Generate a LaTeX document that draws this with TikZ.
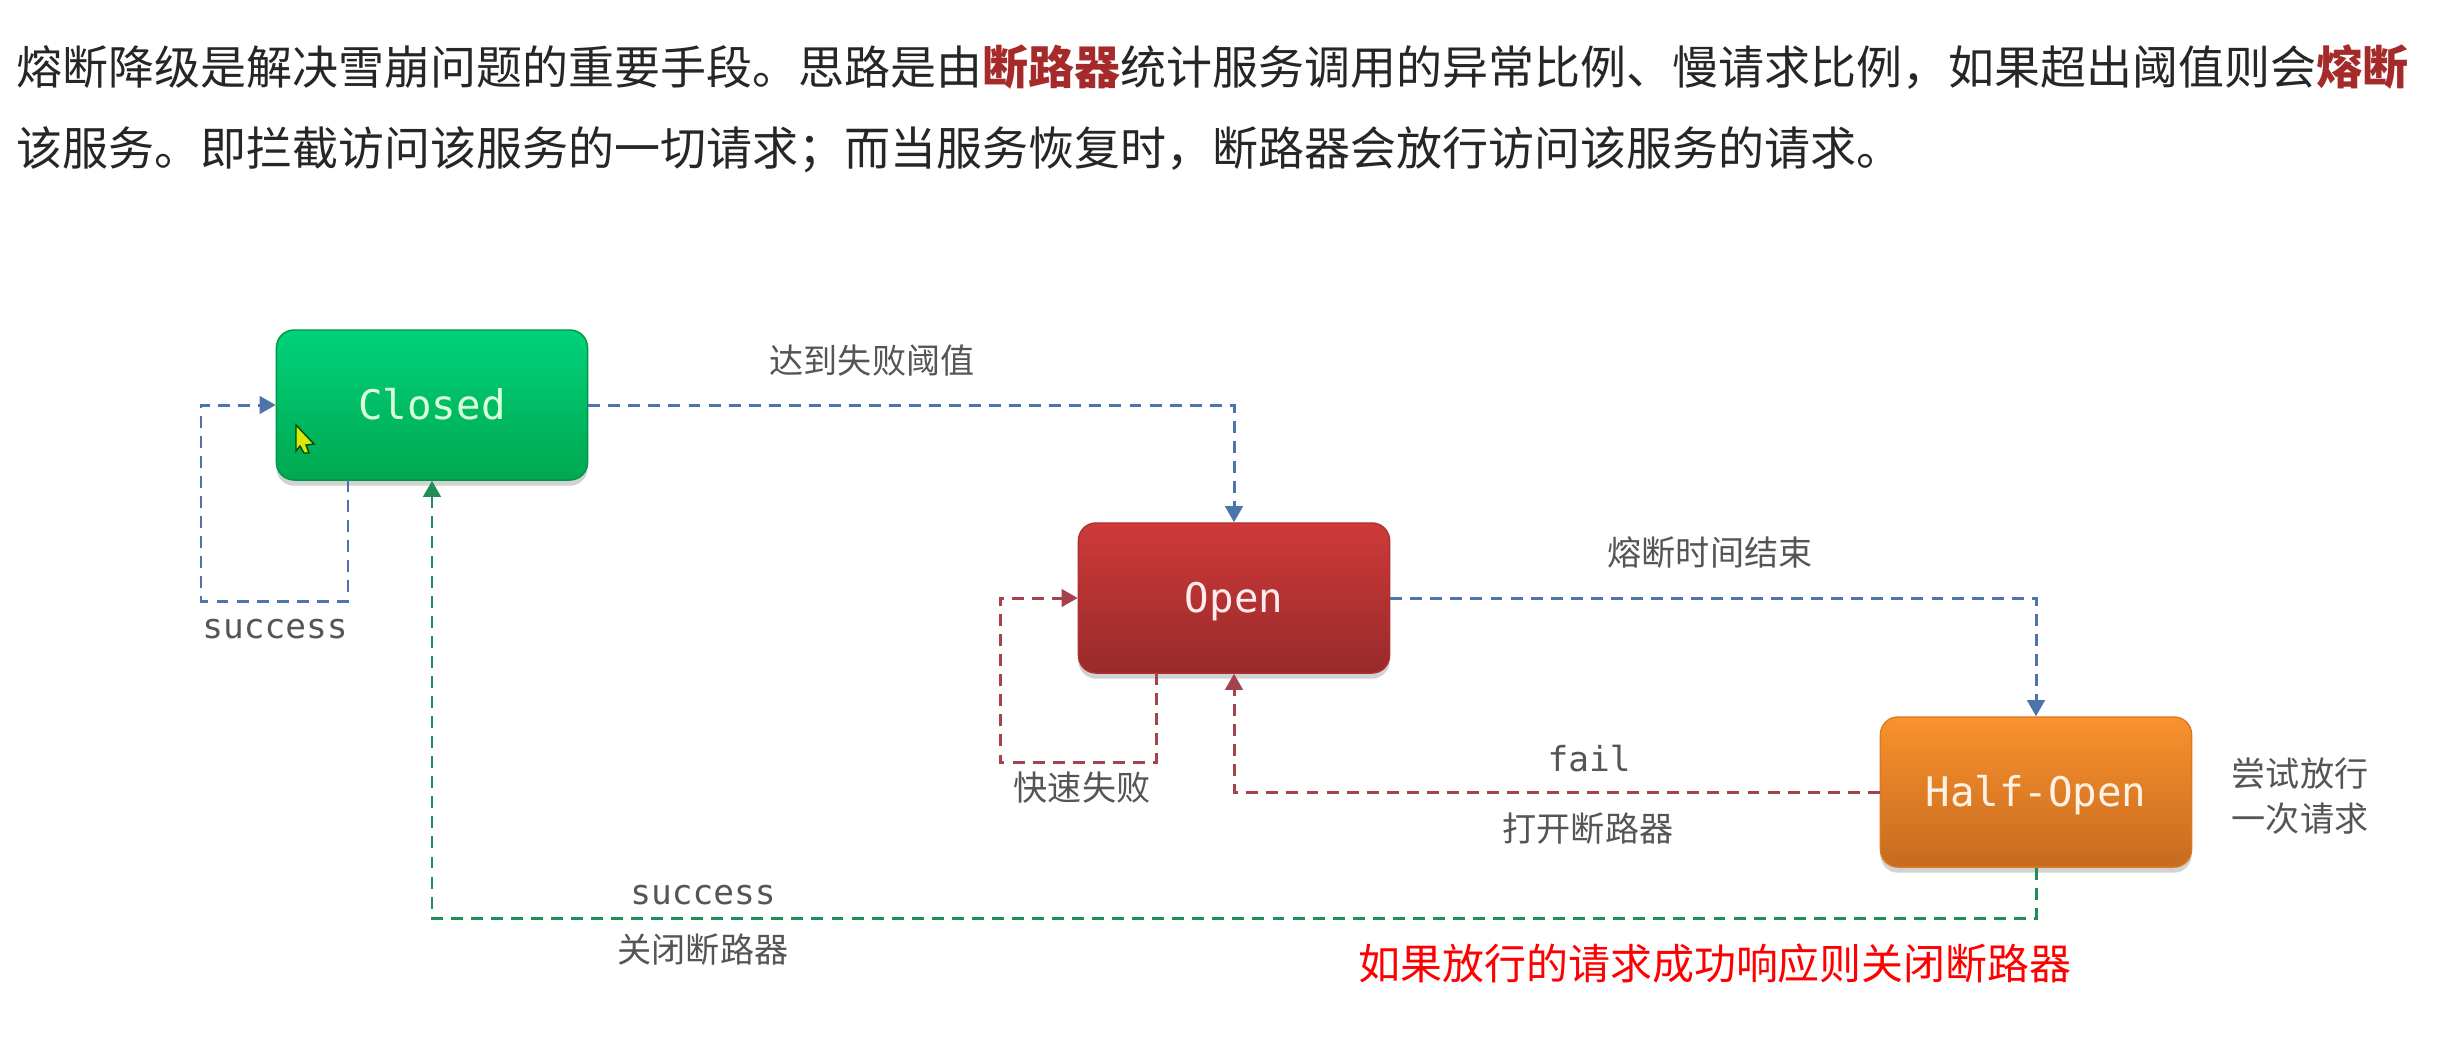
\documentclass[tikz,border=0pt]{standalone}
\usepackage{fontspec}
\setmainfont{Noto Sans CJK SC}
\setmonofont{DejaVu Sans Mono}
\usepackage{xcolor}
\usepackage{tikz}
\usetikzlibrary{arrows.meta,shadows}
\definecolor{azulFluxo}{HTML}{4F74AC}
\definecolor{verdeFluxo}{HTML}{1F8F55}
\definecolor{vermelhoFluxo}{HTML}{A5434C}
\definecolor{cinzaTexto}{HTML}{555555}
\definecolor{vermelhoForte}{HTML}{A52A2A}
\definecolor{fechadoTopo}{HTML}{00D27A}
\definecolor{fechadoBase}{HTML}{00A850}
\definecolor{abertoTopo}{HTML}{CE3A38}
\definecolor{abertoBase}{HTML}{982A2C}
\definecolor{meioTopo}{HTML}{F9922E}
\definecolor{meioBase}{HTML}{C76A1E}
\tikzset{
    estado/.style={
        rectangle,
        rounded corners=5pt,
        align=center,
        minimum width=3.11cm,
        minimum height=1.5cm,
        inner sep=0pt,
        line width=0.4pt,
        text height=0.28cm,
        text depth=0pt,
        font=\ttfamily\fontsize{11.6}{14}\selectfont,
        drop shadow={opacity=0.35, shadow xshift=0pt, shadow yshift=-1.6pt}
    },
    fechado/.style={estado, draw=fechadoBase!90!black, top color=fechadoTopo, bottom color=fechadoBase, text=white!85!green},
    aberto/.style={estado, draw=abertoBase!60!abertoTopo, top color=abertoTopo, bottom color=abertoBase, text=white!92!red},
    meioAberto/.style={estado, draw=meioBase!60!meioTopo, top color=meioTopo, bottom color=meioBase, text=white!90!orange},
    fluxo/.style={-{Triangle[length=4.6pt,width=5pt]}, line width=0.85pt, dash pattern=on 3.4pt off 2.3pt},
    fluxoAzul/.style={fluxo, draw=azulFluxo},
    fluxoVerde/.style={fluxo, draw=verdeFluxo},
    fluxoVermelho/.style={fluxo, draw=vermelhoFluxo},
    rotulo/.style={text=cinzaTexto, inner sep=0pt, align=center, font=\fontsize{9.7}{13}\selectfont},
    rotuloMono/.style={text=cinzaTexto, inner sep=0pt, font=\ttfamily\fontsize{9.8}{12}\selectfont},
    corpo/.style={anchor=west, text=black!85, inner sep=0pt, font=\fontsize{13.08}{16}\selectfont}
}

\begin{document}
\begin{tikzpicture}[x=0.01cm, y=-0.01cm]
    \useasboundingbox[fill=white] (0,0) rectangle (2445,1041);

    \node[corpo] (linhaUm) at (16,67)
        {熔断降级是解决雪崩问题的重要手段。思路是由\textcolor{vermelhoForte}{\textbf{断路器}}统计服务调用的异常比例、慢请求比例，如果超出阈值则会\textcolor{vermelhoForte}{\textbf{熔断}}};
    \node[corpo] (linhaDois) at (16,150)
        {该服务。即拦截访问该服务的一切请求；而当服务恢复时，断路器会放行访问该服务的请求。};

    \node[fechado] (closed) at (432,405) {Closed};
    \node[aberto] (open) at (1234,598) {Open};
    \node[meioAberto] (halfopen) at (2036,792) {Half-Open};

    \fill[yellow!85!green, draw=black!70!green, line width=0.4pt] (296,425) -- (314,444) -- (306,445) -- (309,453) -- (304,453) -- (300,446) -- (296,451) -- cycle;

    \coordinate (closedSaida) at (348,480);
    \coordinate (closedCanto) at (201,601);
    \coordinate (openSaida) at (1156,673);
    \coordinate (openCanto) at (1000,762);
    \coordinate (baseVerde) at (2036,918);

    \draw[fluxoAzul] (closedSaida) |- (closedCanto) |- (closed.west);
    \draw[fluxoAzul] (closed.east) -| (open.north);
    \draw[fluxoAzul] (open.east) -| (halfopen.north);
    \draw[fluxoVermelho] (openSaida) |- (openCanto) |- (open.west);
    \draw[fluxoVermelho] (halfopen.west) -| (open.south);
    \draw[fluxoVerde] (halfopen.south) -- (baseVerde) -| (closed.south);

    \node[rotuloMono] (sucessoUm) at (275,629) {success};
    \node[rotulo] (limite) at (872,361) {达到失败阈值};
    \node[rotulo] (rapido) at (1082,788) {快速失败};
    \node[rotulo] (tempo) at (1710,552) {熔断时间结束};
    \node[rotuloMono] (falha) at (1589,759) {fail};
    \node[rotulo] (abrir) at (1588,829) {打开断路器};
    \node[rotulo] (tentar) at (2300,796) {尝试放行\\一次请求};
    \node[rotuloMono] (sucessoDois) at (703,895) {success};
    \node[rotulo] (fechar) at (703,950) {关闭断路器};
    \node[text=red, inner sep=0pt, font=\fontsize{11.94}{14}\selectfont] (nota) at (1715,963)
        {如果放行的请求成功响应则关闭断路器};
\end{tikzpicture}
\end{document}
